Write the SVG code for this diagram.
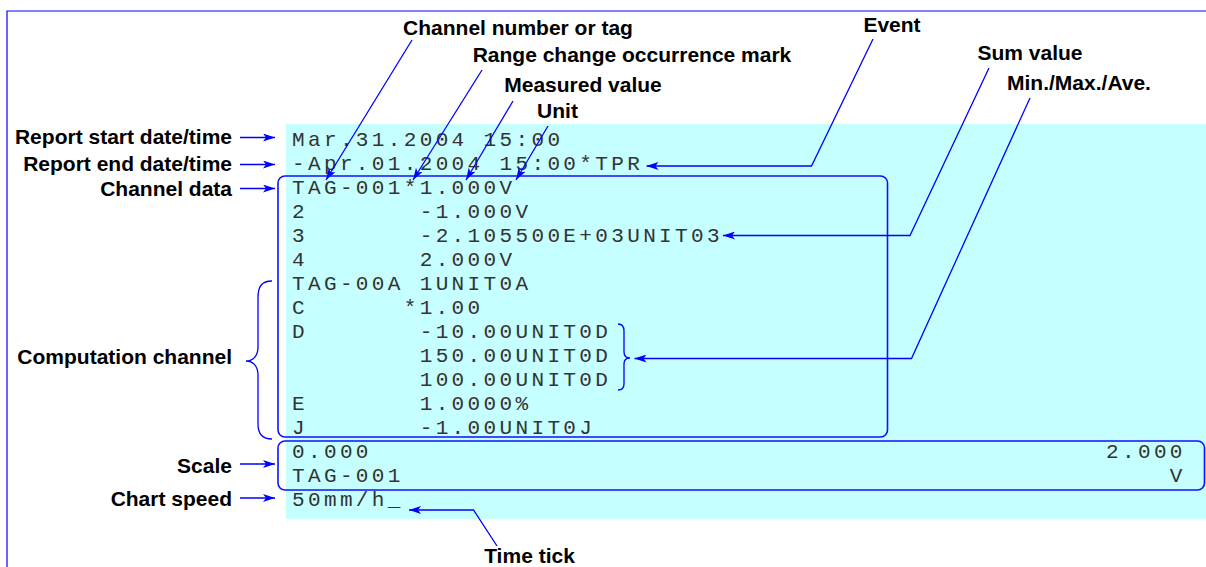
<svg xmlns="http://www.w3.org/2000/svg" width="1206" height="567" viewBox="0 0 1206 567">
<style>
.lbl{font-family:"Liberation Sans",Arial,sans-serif;font-weight:bold;font-size:21px;fill:#000}
.end{text-anchor:end}
.mid{text-anchor:middle}
.mono{font-family:"Liberation Mono","Courier New",monospace;font-size:21px;letter-spacing:3.36px;fill:#333}
.box{fill:none;stroke:#1010ff;stroke-width:1.6}
.lead{fill:none;stroke:#0000ff;stroke-width:1.3}
</style>
<defs>
<marker id="ah" viewBox="0 0 12 8" refX="12" refY="4" markerWidth="12" markerHeight="8" markerUnits="userSpaceOnUse" orient="auto">
<path d="M0,0 L12,4 L0,8 L3,4 z" fill="#0000ff"/>
</marker>
</defs>
<rect width="1206" height="567" fill="#fff"/>
<g id="frame">
<path d="M7,567 V11 H1206" fill="none" stroke="#0000ff" stroke-width="1.2"/>
</g>
<g id="printout">
<rect x="286" y="124" width="920" height="395" fill="#c6ffff"/>
<text class="mono" y="146"><tspan x="292">Mar.31.2004 15:00</tspan></text>
<text class="mono" y="170"><tspan x="292">-Apr.01.2004 15:00*TPR</tspan></text>
<text class="mono" y="194"><tspan x="292">TAG-001*1.000V</tspan></text>
<text class="mono" y="218"><tspan x="292">2</tspan><tspan x="419.7">-1.000V</tspan></text>
<text class="mono" y="242"><tspan x="292">3</tspan><tspan x="419.7">-2.105500E+03UNIT03</tspan></text>
<text class="mono" y="266"><tspan x="292">4</tspan><tspan x="419.7">2.000V</tspan></text>
<text class="mono" y="290"><tspan x="292">TAG-00A</tspan><tspan x="419.7">1UNIT0A</tspan></text>
<text class="mono" y="314"><tspan x="292">C</tspan><tspan x="403.7">*1.00</tspan></text>
<text class="mono" y="338"><tspan x="292">D</tspan><tspan x="419.7">-10.00UNIT0D</tspan></text>
<text class="mono" y="362"><tspan x="419.7">150.00UNIT0D</tspan></text>
<text class="mono" y="386"><tspan x="419.7">100.00UNIT0D</tspan></text>
<text class="mono" y="410"><tspan x="292">E</tspan><tspan x="419.7">1.0000%</tspan></text>
<text class="mono" y="434"><tspan x="292">J</tspan><tspan x="419.7">-1.00UNIT0J</tspan></text>
<text class="mono" y="458"><tspan x="292">0.000</tspan><tspan x="1106">2.000</tspan></text>
<text class="mono" y="482"><tspan x="292">TAG-001</tspan><tspan x="1169.8">V</tspan></text>
<text class="mono" y="506"><tspan x="292">50mm/h_</tspan></text>
</g>
<g id="channel-box">
<rect class="box" x="278" y="176" width="609.5" height="261" rx="7"/>
</g>
<g id="scale-box">
<rect class="box" x="278" y="441" width="926.5" height="49" rx="7"/>
</g>
<g id="computation-brace">
<path class="lead" d="M272,281 C262,281 258,286 258,298 L258,347 C258,356 253,361 246,361 C253,361 258,366 258,375 L258,424 C258,434 262,439 272,439"/>
</g>
<g id="minmaxave-brace">
<path class="lead" d="M618,324 C622,324 624,326 624,331 L624,352 C624,356 626,358 630,358 C626,358 624,360 624,364 L624,384 C624,388 622,390 618,390"/>
</g>
<g id="label-report-start"><text class="lbl end" x="232" y="144">Report start date/time</text></g>
<g id="label-report-end"><text class="lbl end" x="232" y="171">Report end date/time</text></g>
<g id="label-channel-data"><text class="lbl end" x="232" y="196">Channel data</text></g>
<g id="label-computation"><text class="lbl end" x="232" y="364">Computation channel</text></g>
<g id="label-scale"><text class="lbl end" x="232" y="473">Scale</text></g>
<g id="label-chart-speed"><text class="lbl end" x="232" y="506">Chart speed</text></g>
<g id="label-channel-number"><text class="lbl mid" x="518" y="35">Channel number or tag</text></g>
<g id="label-range-change"><text class="lbl mid" x="632" y="62">Range change occurrence mark</text></g>
<g id="label-measured"><text class="lbl mid" x="583" y="92">Measured value</text></g>
<g id="label-unit"><text class="lbl mid" x="557.5" y="118">Unit</text></g>
<g id="label-event"><text class="lbl mid" x="892" y="32">Event</text></g>
<g id="label-sum"><text class="lbl mid" x="1030" y="60">Sum value</text></g>
<g id="label-minmaxave"><text class="lbl mid" x="1079" y="90">Min./Max./Ave.</text></g>
<g id="label-time-tick"><text class="lbl mid" x="529.5" y="563">Time tick</text></g>
<g id="connectors">
<path class="lead" marker-end="url(#ah)" d="M240,137.5 H275"/>
<path class="lead" marker-end="url(#ah)" d="M240,164.5 H275"/>
<path class="lead" marker-end="url(#ah)" d="M240,188.5 H275"/>
<path class="lead" marker-end="url(#ah)" d="M240,464 H275"/>
<path class="lead" marker-end="url(#ah)" d="M240,498 H275"/>
<path class="lead" marker-end="url(#ah)" d="M412,40 L326,180"/>
<path class="lead" marker-end="url(#ah)" d="M482,70 L413,180"/>
<path class="lead" marker-end="url(#ah)" d="M513,101 L466,180"/>
<path class="lead" marker-end="url(#ah)" d="M548,126 L516,180"/>
<path class="lead" marker-end="url(#ah)" d="M873,39 L811.5,166 H646.5"/>
<path class="lead" marker-end="url(#ah)" d="M989,68 L910,235.5 H723"/>
<path class="lead" marker-end="url(#ah)" d="M1030,98 L911.5,358.5 H634.5"/>
<path class="lead" marker-end="url(#ah)" d="M497,546 L473.5,510 H409"/>
</g>
</svg>
